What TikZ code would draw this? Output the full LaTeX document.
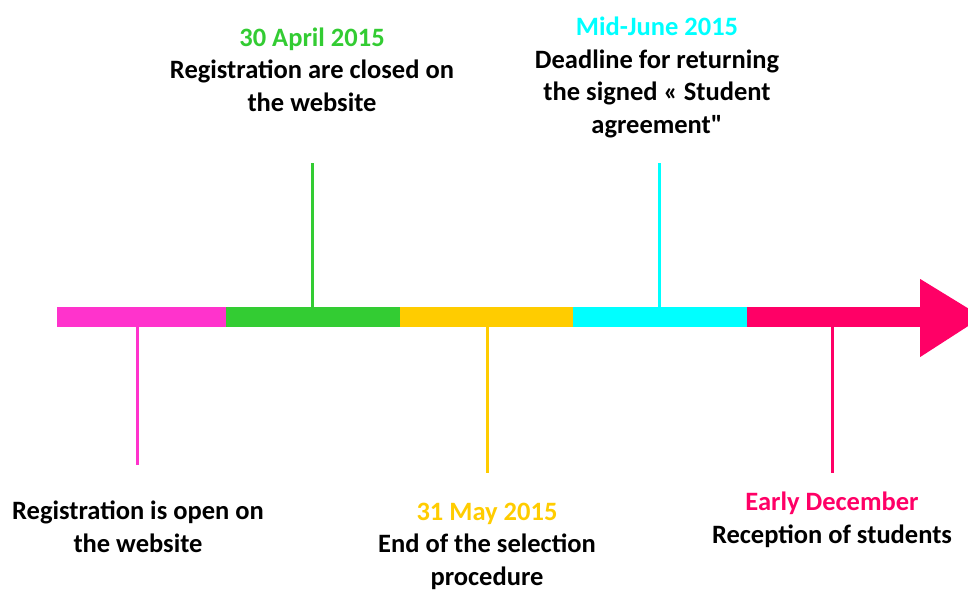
\documentclass[tikz,border=0pt]{standalone}
\usepackage{fontspec}
\setmainfont{Carlito}[Ligatures=TeXOff]
\usetikzlibrary{positioning}
\definecolor{openPink}{HTML}{FF33CC}
\definecolor{closeGreen}{HTML}{33CC33}
\definecolor{selectYellow}{HTML}{FFCC00}
\definecolor{signCyan}{HTML}{00FFFF}
\definecolor{receptRed}{HTML}{FF0066}
\begin{document}
\begin{tikzpicture}[x=1pt, y=-1pt,
	barSeg/.style={rectangle, inner sep=0pt, minimum height=20pt},
	tickLine/.style={line width=3pt},
	stepText/.style={align=center, inner sep=0pt, anchor=base, font=\fontsize{26.5}{32.5}\selectfont\bfseries}]

	\useasboundingbox (0,0) rectangle (968,591);

	% the time bar
	\node[barSeg, fill=openPink, minimum width=169pt](openBar) at (141.5,317){};
	\node[barSeg, fill=closeGreen, minimum width=174pt](closeBar) at (313,317){};
	\node[barSeg, fill=selectYellow, minimum width=173pt](selectBar) at (486.5,317){};
	\node[barSeg, fill=signCyan, minimum width=174pt](signBar) at (660,317){};
	\node[barSeg, fill=receptRed, minimum width=173pt](receptBar) at (833.5,317){};
	\fill[receptRed] (receptBar.east) ++(0,-38) -- ++(62,38) -- ++(-62,40) -- cycle;

	% tick ends
	\coordinate (openTick) at (137,465);
	\coordinate (closeTick) at (312,163);
	\coordinate (selectTick) at (487.5,473);
	\coordinate (signTick) at (659,163);
	\coordinate (receptTick) at (832.5,473);

	\draw[tickLine, openPink] (openTick |- openBar.south) -- (openTick);
	\draw[tickLine, closeGreen] (closeTick |- closeBar.north) -- (closeTick);
	\draw[tickLine, selectYellow] (selectTick |- selectBar.south) -- (selectTick);
	\draw[tickLine, signCyan] (signTick |- signBar.north) -- (signTick);
	\draw[tickLine, receptRed] (receptTick |- receptBar.south) -- (receptTick);

	% texts (anchored at the baseline of the last line)
	\node[stepText](openText) at (138,552){Registration is open on\\the website};
	\node[stepText](closeText) at (312,111){\textcolor{closeGreen}{30 April 2015}\\Registration are closed on\\the website};
	\node[stepText](selectText) at (487,585){\textcolor{selectYellow}{31 May 2015}\\End of the selection\\procedure};
	\node[stepText](signText) at (657,133){\textcolor{signCyan}{Mid-June 2015}\\Deadline for returning\\the signed « Student\\agreement"};
	\node[stepText](receptText) at (832,543){\textcolor{receptRed}{Early December}\\Reception of students};
\end{tikzpicture}
\end{document}
